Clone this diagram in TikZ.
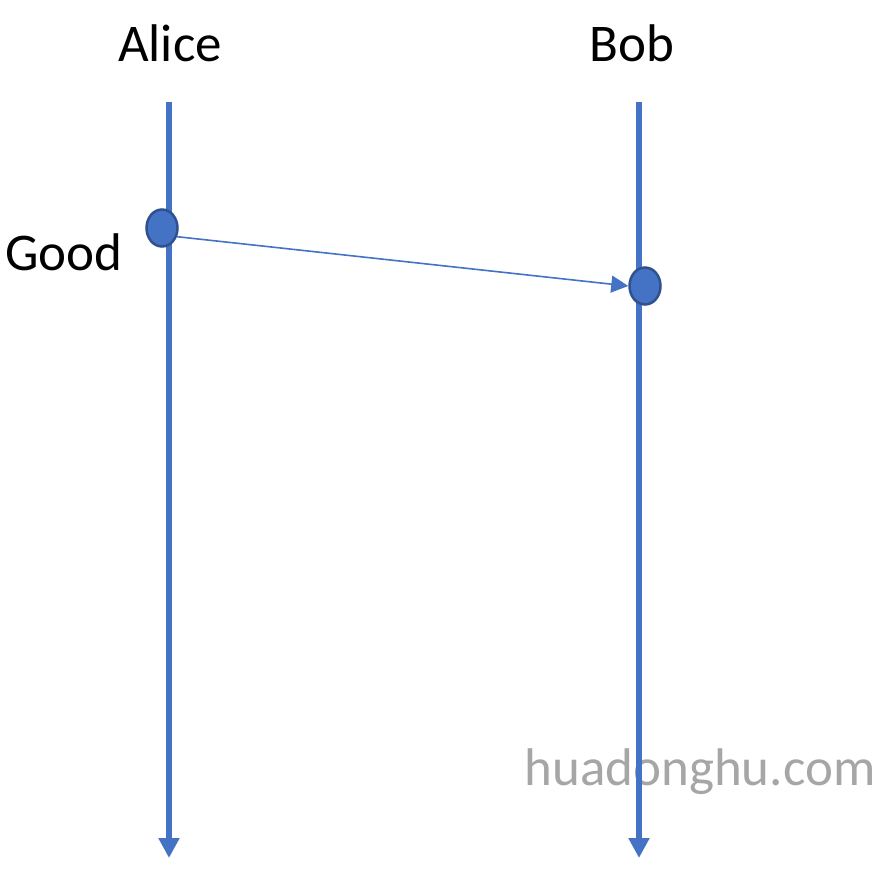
\documentclass[tikz,border=0pt]{standalone}
\usepackage{fontspec}
\setmainfont{Carlito}
\usepackage{tikz}
\usetikzlibrary{arrows.meta}
\usetikzlibrary{shapes.geometric}
\definecolor{lineblue}{HTML}{4472C4}
\definecolor{dotedge}{HTML}{2F528F}
\definecolor{markgray}{HTML}{A6A6A6}

\begin{document}
\begin{tikzpicture}[x=1pt, y=-1pt,
    label text/.style = {anchor=base, font=\fontsize{53}{60}\selectfont},
    life/.style = {draw=lineblue, line width=6pt, -{Triangle[length=20pt, width=20pt]}},
    dot/.style = {draw=dotedge, fill=lineblue, line width=2.5pt, ellipse, inner sep=0pt, minimum width=31pt, minimum height=37pt},
    msg/.style = {draw=lineblue, line width=1.6pt, -{Triangle[length=17pt, width=17pt]}}]
    \useasboundingbox (0, 0) rectangle (884, 888);

    \node [label text] (alice) at (170, 62) {Alice};
    \node [label text] (bob) at (632, 62) {Bob};
    \node [label text] (good) at (64, 270) {Good};
    \node [label text, text=markgray] (mark) at (700, 785) {huadonghu.com};

    \coordinate (a0) at (169, 102);
    \coordinate (a1) at (169, 858);
    \coordinate (b0) at (639, 102);
    \coordinate (b1) at (639, 858);

    \draw[life] (a0) -- (a1);
    \draw[life] (b0) -- (b1);

    \node [dot] (send) at (162, 228) {};
    \node [dot] (recv) at (645, 286) {};

    \draw[msg] (send.-30) -- (recv.west);

\end{tikzpicture}
\end{document}
